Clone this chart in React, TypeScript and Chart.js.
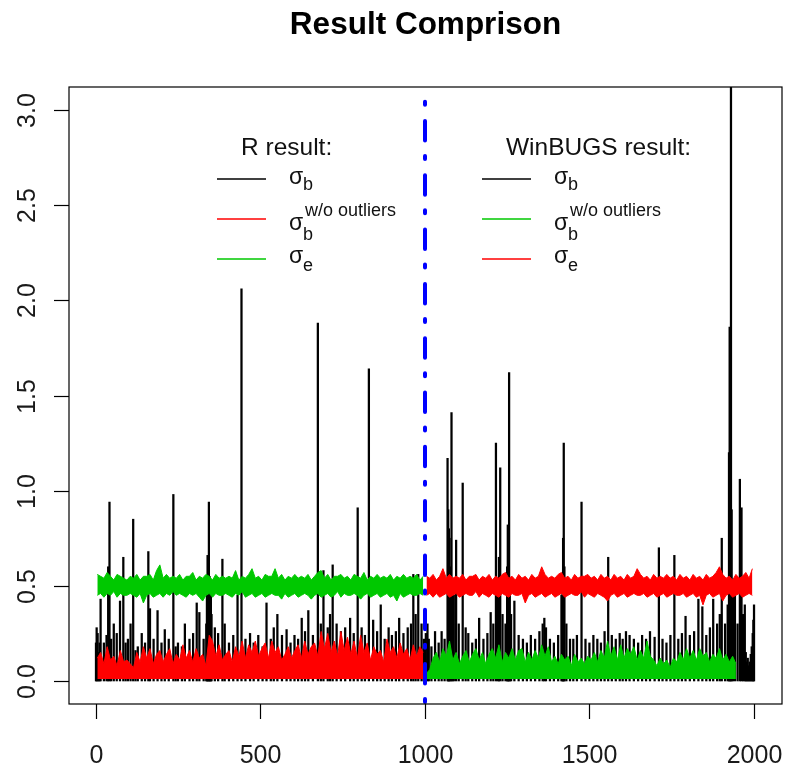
import React, { useEffect, useRef } from "react";
import { Chart, registerables } from "chart.js";

Chart.register(...registerables);

// ---------- text / ticks ----------
const TITLE = "Result Comprison";
const X_TICKS = [0, 500, 1000, 1500, 2000];
const Y_TICKS = [0, 0.5, 1, 1.5, 2, 2.5, 3];
const Y_TICK_LABELS = ["0.0", "0.5", "1.0", "1.5", "2.0", "2.5", "3.0"];
const SPLIT_ITER = 1000;
const LEGEND_R_TITLE = "R result:";
const LEGEND_W_TITLE = "WinBUGS result:";

// ---------- sigma_b (black): visible strokes [iteration, value] ----------
const sigmaBTrace: [number, number][] = [
  [1, 0.2], [3, 0.28], [6, 0.25], [9, 0.15], [12, 0.2], [15, 0.43], [25, 0.2], [33, 0.24],
  [38, 0.6], [42, 0.94], [47, 0.22], [55, 0.3], [64, 0.25], [74, 0.42], [84, 0.65], [91, 0.2],
  [98, 0.22], [106, 0.3], [114, 0.85], [121, 0.16], [128, 0.18], [140, 0.25], [150, 0.2],
  [160, 0.68], [165, 0.38], [176, 0.22], [188, 0.37], [200, 0.2], [210, 0.27], [222, 0.22],
  [236, 0.98], [243, 0.18], [250, 0.2], [262, 0.18], [271, 0.3], [285, 0.22], [296, 0.25],
  [307, 0.41], [315, 0.36], [328, 0.22], [336, 0.3], [338, 0.5], [340, 0.66], [342, 0.4],
  [344, 0.94], [346, 0.55], [348, 0.45], [350, 0.48], [352, 0.35], [362, 0.28], [372, 0.25],
  [385, 0.64], [392, 0.3], [405, 0.2], [418, 0.24], [431, 0.45], [443, 2.06], [455, 0.22],
  [469, 0.25], [480, 0.2], [494, 0.24], [507, 0.18], [519, 0.41], [532, 0.22], [541, 0.28],
  [552, 0.35], [566, 0.24], [580, 0.27], [592, 0.2], [604, 0.24], [615, 0.22], [626, 0.33],
  [636, 0.26], [646, 0.37], [660, 0.24], [675, 1.88], [684, 0.3], [692, 0.58], [705, 0.28],
  [712, 0.35], [720, 0.61], [732, 0.3], [745, 0.26], [758, 0.28], [773, 0.33], [784, 0.25],
  [796, 0.91], [808, 0.28], [818, 0.24], [830, 1.64], [843, 0.32], [855, 0.26], [866, 0.4],
  [878, 0.22], [890, 0.28], [900, 0.24], [912, 0.26], [922, 0.33], [935, 0.25], [948, 0.28],
  [958, 0.3], [965, 0.56], [972, 0.35], [980, 0.56], [990, 0.3], [997, 0.22],
  [1003, 0.25], [1008, 0.3], [1012, 0.22], [1020, 0.18], [1031, 0.26], [1042, 0.2],
  [1051, 0.26], [1060, 0.22], [1069, 1.17], [1071, 0.9], [1073, 0.8], [1075, 0.75],
  [1078, 0.6], [1081, 1.41], [1084, 0.5], [1088, 0.45], [1095, 0.74], [1103, 0.3],
  [1115, 1.04], [1124, 0.28], [1132, 0.25], [1144, 0.2], [1155, 0.22], [1165, 0.33],
  [1178, 0.22], [1190, 0.25], [1200, 0.36], [1208, 0.3], [1216, 1.25], [1222, 0.5],
  [1225, 0.65], [1229, 1.12], [1236, 0.35], [1245, 0.3], [1250, 0.6], [1252, 0.82],
  [1254, 0.7], [1256, 1.62], [1258, 0.5], [1262, 0.35], [1272, 0.42], [1285, 0.24],
  [1298, 0.22], [1310, 0.2], [1322, 0.24], [1335, 0.22], [1348, 0.26], [1358, 0.3],
  [1363, 0.33], [1368, 0.28], [1380, 0.22], [1392, 0.2], [1405, 0.24], [1415, 0.45],
  [1418, 0.5], [1420, 0.75], [1422, 1.25], [1424, 0.6], [1430, 0.3], [1441, 0.22],
  [1451, 0.22], [1462, 0.24], [1476, 0.94], [1488, 0.22], [1500, 0.2], [1512, 0.24],
  [1524, 0.22], [1535, 0.2], [1546, 0.26], [1557, 0.65], [1568, 0.24], [1580, 0.22],
  [1592, 0.25], [1601, 0.22], [1611, 0.26], [1622, 0.24], [1635, 0.22], [1648, 0.2],
  [1660, 0.24], [1672, 0.22], [1684, 0.26], [1698, 0.23], [1711, 0.7], [1722, 0.22],
  [1734, 0.2], [1746, 0.24], [1758, 0.66], [1770, 0.22], [1781, 0.25], [1792, 0.34],
  [1805, 0.24], [1818, 0.26], [1831, 0.43], [1843, 0.39], [1855, 0.24], [1866, 0.28],
  [1876, 0.43], [1888, 0.3], [1896, 0.35], [1902, 0.75], [1912, 0.3], [1920, 0.4],
  [1924, 1.2], [1926, 1.86], [1928, 1.5], [1930, 3.12], [1932, 0.9], [1936, 0.45],
  [1942, 0.53], [1950, 0.3], [1957, 1.06], [1962, 0.91], [1967, 0.35], [1972, 0.4],
  [1975, 0.15], [1978, 0.1], [1981, 0.12], [1984, 0.08], [1987, 0.1], [1990, 0.14],
  [1993, 0.18], [1996, 0.25], [1998, 0.32], [2000, 0.4],
];

// ---------- sampled traces (every 10 iterations) ----------
const STEP = 10;
const R_START = 5;
const W_START = 1005;

// R: sigma_b w/o outliers (red), upper edge of the trace, iterations 5..995
const rSigmaBNoOutTop = [
  0.12, 0.15, 0.09, 0.18, 0.11, 0.13, 0.08, 0.16, 0.10, 0.11,
  0.09, 0.07, 0.15, 0.10, 0.18, 0.12, 0.17, 0.09, 0.14, 0.16,
  0.10, 0.14, 0.17, 0.09, 0.14, 0.11, 0.19, 0.12, 0.16, 0.10,
  0.17, 0.12, 0.14, 0.08, 0.24, 0.21, 0.13, 0.19, 0.11, 0.14,
  0.16, 0.10, 0.18, 0.13, 0.21, 0.12, 0.19, 0.15, 0.21, 0.13,
  0.17, 0.20, 0.12, 0.21, 0.15, 0.18, 0.11, 0.14, 0.18, 0.12,
  0.16, 0.19, 0.12, 0.21, 0.14, 0.18, 0.20, 0.13, 0.26, 0.17,
  0.25, 0.15, 0.21, 0.13, 0.26, 0.16, 0.23, 0.14, 0.21, 0.12,
  0.24, 0.15, 0.20, 0.11, 0.18, 0.14, 0.16, 0.10, 0.22, 0.15,
  0.18, 0.12, 0.20, 0.14, 0.17, 0.11, 0.19, 0.13, 0.18, 0.15,
];

// R: sigma_e (green), upper / lower edges, iterations 5..995
const rSigmaEHi = [
  0.56, 0.55, 0.54, 0.57, 0.55, 0.53, 0.56, 0.55, 0.54, 0.53,
  0.55, 0.54, 0.56, 0.53, 0.55, 0.55, 0.56, 0.53, 0.58, 0.61,
  0.54, 0.56, 0.54, 0.55, 0.54, 0.56, 0.53, 0.55, 0.55, 0.57,
  0.53, 0.55, 0.54, 0.56, 0.55, 0.53, 0.56, 0.54, 0.55, 0.54,
  0.55, 0.54, 0.58, 0.53, 0.55, 0.54, 0.56, 0.59, 0.54, 0.55,
  0.53, 0.56, 0.55, 0.55, 0.59, 0.54, 0.56, 0.53, 0.55, 0.54,
  0.56, 0.54, 0.55, 0.54, 0.56, 0.53, 0.55, 0.57, 0.58, 0.54,
  0.56, 0.53, 0.55, 0.55, 0.56, 0.54, 0.55, 0.53, 0.56, 0.55,
  0.54, 0.57, 0.53, 0.55, 0.54, 0.56, 0.54, 0.55, 0.54, 0.56,
  0.53, 0.55, 0.54, 0.56, 0.54, 0.55, 0.54, 0.56, 0.53, 0.55,
];
const rSigmaELo = [
  0.45, 0.46, 0.44, 0.46, 0.45, 0.47, 0.44, 0.46, 0.45, 0.45,
  0.46, 0.45, 0.44, 0.46, 0.41, 0.45, 0.46, 0.44, 0.45, 0.46,
  0.44, 0.46, 0.45, 0.47, 0.45, 0.46, 0.45, 0.44, 0.46, 0.45,
  0.46, 0.44, 0.42, 0.45, 0.46, 0.44, 0.46, 0.45, 0.45, 0.46,
  0.45, 0.44, 0.46, 0.45, 0.47, 0.44, 0.45, 0.46, 0.44, 0.45,
  0.46, 0.44, 0.45, 0.46, 0.45, 0.45, 0.43, 0.46, 0.44, 0.45,
  0.46, 0.44, 0.45, 0.46, 0.45, 0.43, 0.45, 0.46, 0.44, 0.45,
  0.46, 0.44, 0.45, 0.47, 0.44, 0.46, 0.45, 0.45, 0.46, 0.45,
  0.43, 0.45, 0.46, 0.44, 0.45, 0.46, 0.44, 0.45, 0.46, 0.44,
  0.45, 0.42, 0.46, 0.44, 0.45, 0.46, 0.45, 0.45, 0.46, 0.45,
];

// WinBUGS: sigma_b w/o outliers (green), upper edge, iterations 1005..1945
const wSigmaBNoOutTop = [
  0.04, 0.06, 0.12, 0.15, 0.10, 0.17, 0.13, 0.21, 0.11, 0.15,
  0.09, 0.13, 0.16, 0.10, 0.14, 0.17, 0.11, 0.15, 0.09, 0.14,
  0.17, 0.12, 0.19, 0.10, 0.15, 0.12, 0.17, 0.11, 0.16, 0.17,
  0.10, 0.15, 0.11, 0.16, 0.12, 0.19, 0.13, 0.18, 0.10, 0.13,
  0.09, 0.14, 0.11, 0.13, 0.08, 0.14, 0.10, 0.12, 0.09, 0.13,
  0.11, 0.15, 0.10, 0.16, 0.12, 0.21, 0.13, 0.18, 0.11, 0.19,
  0.12, 0.17, 0.14, 0.18, 0.11, 0.16, 0.12, 0.21, 0.13, 0.11,
  0.08, 0.12, 0.09, 0.11, 0.07, 0.12, 0.10, 0.15, 0.11, 0.17,
  0.12, 0.16, 0.11, 0.17, 0.13, 0.15, 0.10, 0.14, 0.12, 0.17,
  0.11, 0.14, 0.10, 0.13, 0.09,
];

// WinBUGS: sigma_e (red), upper / lower edges, iterations 1005..1995
const wSigmaEHi = [
  0.55, 0.54, 0.56, 0.53, 0.55, 0.59, 0.54, 0.56, 0.54, 0.55,
  0.54, 0.56, 0.53, 0.55, 0.55, 0.56, 0.53, 0.55, 0.54, 0.56,
  0.53, 0.55, 0.54, 0.56, 0.57, 0.54, 0.55, 0.53, 0.56, 0.54,
  0.55, 0.53, 0.56, 0.54, 0.55, 0.60, 0.56, 0.54, 0.55, 0.54,
  0.56, 0.57, 0.54, 0.55, 0.53, 0.56, 0.54, 0.55, 0.55, 0.56,
  0.54, 0.55, 0.53, 0.56, 0.54, 0.55, 0.53, 0.56, 0.54, 0.55,
  0.53, 0.56, 0.54, 0.55, 0.59, 0.56, 0.54, 0.55, 0.53, 0.56,
  0.54, 0.55, 0.54, 0.56, 0.54, 0.55, 0.53, 0.56, 0.54, 0.55,
  0.53, 0.56, 0.54, 0.55, 0.53, 0.56, 0.54, 0.55, 0.57, 0.60,
  0.56, 0.54, 0.55, 0.53, 0.56, 0.54, 0.55, 0.57, 0.54, 0.59,
];
const wSigmaELo = [
  0.45, 0.46, 0.44, 0.46, 0.44, 0.45, 0.46, 0.44, 0.45, 0.46,
  0.44, 0.45, 0.46, 0.45, 0.45, 0.47, 0.44, 0.46, 0.45, 0.44,
  0.46, 0.45, 0.44, 0.46, 0.45, 0.44, 0.46, 0.45, 0.45, 0.46,
  0.41, 0.45, 0.46, 0.44, 0.45, 0.46, 0.44, 0.45, 0.46, 0.44,
  0.45, 0.46, 0.44, 0.45, 0.46, 0.45, 0.45, 0.47, 0.44, 0.46,
  0.45, 0.44, 0.46, 0.45, 0.44, 0.42, 0.45, 0.46, 0.44, 0.45,
  0.46, 0.44, 0.45, 0.46, 0.45, 0.45, 0.46, 0.44, 0.45, 0.46,
  0.44, 0.45, 0.46, 0.44, 0.45, 0.46, 0.45, 0.45, 0.46, 0.44,
  0.45, 0.46, 0.44, 0.45, 0.40, 0.45, 0.46, 0.44, 0.45, 0.46,
  0.42, 0.45, 0.46, 0.44, 0.45, 0.46, 0.44, 0.45, 0.46, 0.45,
];

const TRACE_FLOOR = 0.01;

const BLACK = "#000000";
const RED = "#ff0000";
const GREEN = "#00c800";
const BLUE = "#0000ff";
const FONT = '"Liberation Sans", Arial, Helvetica, sans-serif';

const pts = (vals: number[], start: number) =>
  vals.map((v, i) => ({ x: start + i * STEP, y: v }));

function drawLegend(
  ctx: CanvasRenderingContext2D,
  title: string,
  lineX: number,
  colors: string[]
) {
  ctx.save();
  ctx.fillStyle = "#111";
  ctx.textAlign = "left";
  ctx.textBaseline = "alphabetic";
  ctx.font = `24.5px ${FONT}`;
  ctx.fillText(title, lineX + 24, 155);
  const lineYs = [179, 219, 259];
  ctx.lineWidth = 1.5;
  colors.forEach((c, i) => {
    ctx.strokeStyle = c;
    ctx.beginPath();
    ctx.moveTo(lineX, lineYs[i]);
    ctx.lineTo(lineX + 49, lineYs[i]);
    ctx.stroke();
  });
  const sx = lineX + 72;
  ctx.font = `23px ${FONT}`;
  ctx.fillText("σ", sx, 184);
  ctx.fillText("σ", sx, 230);
  ctx.fillText("σ", sx, 263);
  ctx.font = `18px ${FONT}`;
  ctx.fillText("b", sx + 14, 190);
  ctx.fillText("b", sx + 14, 240);
  ctx.fillText("e", sx + 14, 271);
  ctx.fillText("w/o outliers", sx + 16, 216);
  ctx.restore();
}

const decorPlugin = {
  id: "rDecor",
  afterDatasetsDraw(chart: any) {
    const { ctx, chartArea, scales } = chart;
    const x = Math.round(scales.x.getPixelForValue(SPLIT_ITER));
    ctx.save();
    ctx.strokeStyle = BLUE;
    ctx.lineWidth = 4;
    ctx.lineCap = "round";
    ctx.setLineDash([3, 15.5, 19.5, 16.3]);
    ctx.beginPath();
    ctx.moveTo(x, chartArea.bottom - 2);
    ctx.lineTo(x, chartArea.top + 3);
    ctx.stroke();
    ctx.restore();
  },
  afterDraw(chart: any) {
    const { ctx, chartArea, scales } = chart;
    const { left, right, top, bottom } = chartArea;
    ctx.save();
    ctx.strokeStyle = "#000";
    ctx.lineWidth = 1.2;
    ctx.strokeRect(left, top, right - left, bottom - top);
    ctx.fillStyle = "#1a1a1a";
    ctx.font = `25px ${FONT}`;
    Y_TICKS.forEach((v, i) => {
      const y = Math.round(scales.y.getPixelForValue(v)) + 0.5;
      ctx.beginPath();
      ctx.moveTo(left - 15, y);
      ctx.lineTo(left, y);
      ctx.stroke();
      ctx.save();
      ctx.translate(35, y);
      ctx.rotate(-Math.PI / 2);
      ctx.textAlign = "center";
      ctx.textBaseline = "alphabetic";
      ctx.fillText(Y_TICK_LABELS[i], 0, 0);
      ctx.restore();
    });
    X_TICKS.forEach((v) => {
      const x = Math.round(scales.x.getPixelForValue(v)) + 0.5;
      ctx.beginPath();
      ctx.moveTo(x, bottom);
      ctx.lineTo(x, bottom + 15);
      ctx.stroke();
      ctx.textAlign = "center";
      ctx.textBaseline = "alphabetic";
      ctx.fillText(String(v), x, 763);
    });
    ctx.fillStyle = "#000";
    ctx.font = `bold 31.5px ${FONT}`;
    ctx.textAlign = "center";
    ctx.fillText(TITLE, (left + right) / 2, 34);
    ctx.restore();
    drawLegend(ctx, LEGEND_R_TITLE, 217, [BLACK, RED, GREEN]);
    drawLegend(ctx, LEGEND_W_TITLE, 482, [BLACK, GREEN, RED]);
  },
};

export default function App() {
  const ref = useRef<HTMLCanvasElement | null>(null);
  useEffect(() => {
    if (!ref.current) return;
    const line = (data: any, color: string, extra: any = {}) => ({
      type: "line",
      data,
      borderColor: color,
      backgroundColor: color,
      borderWidth: 1,
      pointRadius: 0,
      pointHoverRadius: 0,
      tension: 0,
      fill: false,
      ...extra,
    });
    const chart = new Chart(ref.current, {
      type: "line",
      data: {
        datasets: [
          line(pts(wSigmaEHi, W_START), RED, { fill: "+1", order: 1 }),
          line(pts(wSigmaELo, W_START), RED, { order: 1 }),
          line(pts(rSigmaEHi, R_START), GREEN, { fill: "+1", order: 1 }),
          line(pts(rSigmaELo, R_START), GREEN, { order: 1 }),
          line(pts(rSigmaBNoOutTop, R_START), RED, {
            fill: { value: TRACE_FLOOR },
            order: 2,
          }),
          line(pts(wSigmaBNoOutTop, W_START), GREEN, {
            fill: { value: TRACE_FLOOR },
            order: 2,
          }),
          {
            type: "bar",
            data: sigmaBTrace.map(([x, y]) => ({ x, y })),
            backgroundColor: BLACK,
            borderWidth: 0,
            barThickness: 1.6,
            order: 3,
          } as any,
        ],
      },
      options: {
        responsive: false,
        maintainAspectRatio: false,
        animation: false,
        events: [],
        layout: { padding: { left: 69, top: 87, right: 6, bottom: 70 } },
        scales: {
          x: { type: "linear", min: -81, max: 2085, display: false, offset: false },
          y: { type: "linear", min: -0.121, max: 3.121, display: false },
        },
        plugins: {
          legend: { display: false },
          tooltip: { enabled: false },
          title: { display: false },
        },
      },
      plugins: [decorPlugin],
    });
    return () => chart.destroy();
  }, []);
  return (
    <canvas
      ref={ref}
      width={788}
      height={774}
      style={{ position: "absolute", left: 0, top: 0, background: "#fff" }}
    />
  );
}
